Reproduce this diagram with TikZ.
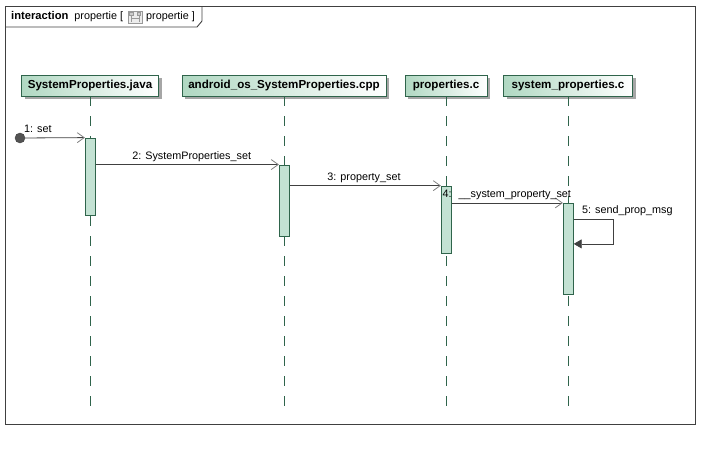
\documentclass[tikz,border=0pt]{standalone}
\usepackage{fontspec}
\setmainfont{Liberation Sans}
\usetikzlibrary{arrows.meta,shadows}
\definecolor{lifegreen}{RGB}{47,100,75}
\definecolor{headmint}{RGB}{176,216,194}
\definecolor{actmint}{RGB}{195,226,211}
\definecolor{linegray}{RGB}{64,64,64}
\definecolor{tipgray}{RGB}{128,128,128}
\begin{document}
\begin{tikzpicture}[x=1pt, y=-1pt,
                head/.style={draw=lifegreen, line width=0.8pt, left color=headmint, right color=white, inner sep=0pt, minimum height=21pt, font=\fontsize{11.6}{13}\selectfont\bfseries, drop shadow={shadow xshift=3pt, shadow yshift=-3pt, fill=black!35, opacity=1}},
                life/.style={draw=lifegreen, line width=0.8pt, dash pattern=on 10pt off 10pt},
                act/.style={draw=lifegreen, line width=0.8pt, fill=actmint, inner sep=0pt, minimum width=10pt},
                msg/.style={draw=linegray, line width=0.8pt, -{Straight Barb[length=7pt, width=10pt, color=tipgray]}},
                selfmsg/.style={draw=linegray, line width=0.8pt, -{Triangle[length=8pt, width=9pt]}},
                lbl/.style={inner sep=0pt, font=\fontsize{10.8}{12}\selectfont},
                frame/.style={draw=linegray, line width=0.9pt}]
                \useasboundingbox (0,0) rectangle (710,464);
                \draw[frame] (5,6) rectangle (695,424);
                \draw[frame] (5,27) -- (197,27) -- (202,21) -- (202,6);
                \node[lbl, anchor=west] (title) at (11,16.5) {{\fontsize{11.2}{13}\selectfont\bfseries interaction}\ \ propertie [};
                \draw[draw=gray!80, fill=gray!15] (128,11) rectangle (142,23);
                \draw[draw=gray!80, fill=gray!40] (129.5,12.5) rectangle (133,15) (137,12.5) rectangle (140.5,15);
                \draw[draw=gray!80] (131.2,15) -- (131.2,22) (138.7,15) -- (138.7,22) (131.2,18.5) -- (138.7,18.5);
                \node[lbl, anchor=west] (title2) at (146,16.5) {propertie ]};

                \node[head, minimum width=137pt] (h1) at (90,85.5) {SystemProperties.java};
                \node[head, minimum width=204pt] (h2) at (284,85.5) {android\_os\_SystemProperties.cpp};
                \node[head, minimum width=82pt] (h3) at (446,85.5) {properties.c};
                \node[head, minimum width=129pt] (h4) at (568,85.5) {system\_properties.c};
                \coordinate (bottom) at (0,406);
                \foreach \h in {h1,h2,h3,h4}
                    \draw[life] (\h.south) -- (\h.south |- bottom);

                \node[act, minimum height=77pt] (a1) at (90.3,176.5) {};
                \node[act, minimum height=71.7pt] (a2) at (284.3,200.8) {};
                \node[act, minimum height=67.3pt] (a3) at (446.3,219.7) {};
                \node[act, minimum height=91pt] (a4) at (568.3,248.8) {};

                \node[draw=linegray, fill=linegray!90, circle, inner sep=0pt, minimum size=10pt] (start) at (20,138) {};
                \draw[msg] (start) -- (a1.north west);
                \draw[msg] (a1.east |- a2.north) -- (a2.north west);
                \draw[msg] (a2.east |- a3.north) -- (a3.north west);
                \draw[msg] (a3.east |- a4.north) -- (a4.north west);
                \draw[selfmsg] ([yshift=-16pt]a4.north east) -- ++(40,0) -- ++(0,25) -- ++(-40,0);

                \node[lbl, anchor=west] (l1) at (24,129) {1: set};
                \node[lbl] (l2) at (191.7,156.5) {2: SystemProperties\_set};
                \node[lbl] (l3) at (364,178) {3: property\_set};
                \node[lbl, anchor=west] (l4) at (442.5,194.5) {4: \ \_\_system\_property\_set};
                \node[lbl, anchor=west] (l5) at (582,211) {5: send\_prop\_msg};
            \end{tikzpicture}
\end{document}
